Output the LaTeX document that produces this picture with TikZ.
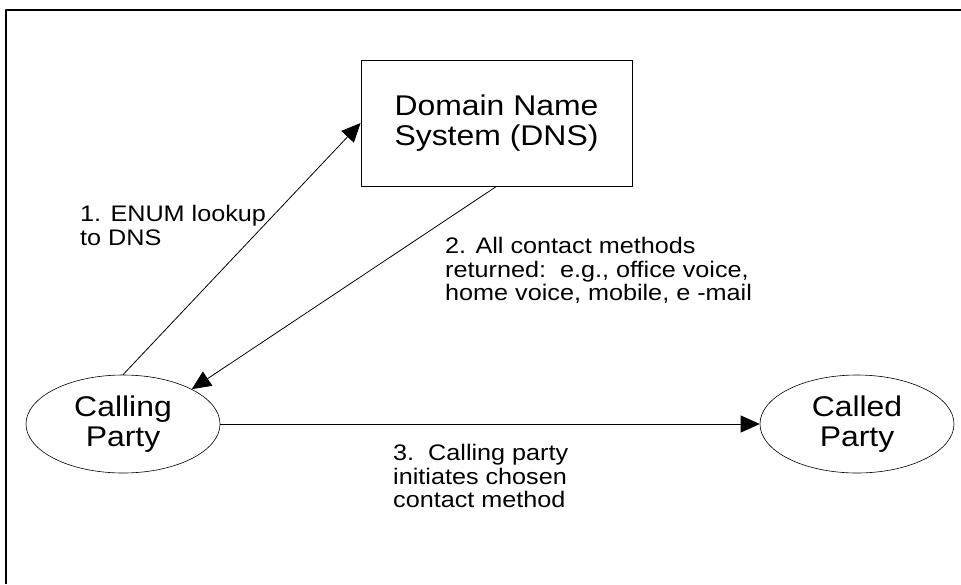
\documentclass[tikz,border=0pt]{standalone}
\usepackage{fontspec}
\setmainfont{Liberation Sans}
\newfontfamily\widesans[FakeStretch=1.12]{Liberation Sans}
\usetikzlibrary{arrows.meta,shapes.geometric}
\begin{document}
\begin{tikzpicture}[x=1pt,y=-1pt,line join=round,>={Triangle[length=19pt,width=17pt]},
	dnsbox/.style={draw,line width=0.8pt,minimum width=271pt,minimum height=126pt,inner sep=0pt,align=center,font=\widesans\fontsize{28.5}{30}\selectfont},
	party/.style={draw,ellipse,line width=0.6pt,minimum width=194pt,minimum height=98pt,inner sep=0pt,align=center,font=\widesans\fontsize{28.5}{30}\selectfont},
	lbl/.style={anchor=north west,inner sep=0pt,align=left,font=\widesans\fontsize{22.5}{23.5}\selectfont}]
	\useasboundingbox (0,0) rectangle (961,584);
	% frame
	\draw[line width=2.2pt] (6,584)--(6,10)--(962,10);
	\node[dnsbox] (dns) at (496.5,123) {Domain Name\\System (DNS)};
	\node[party] (calling) at (123,424) {Calling\\Party};
	\node[party] (called) at (857,424) {Called\\Party};
	\draw[->,line width=0.8pt] (calling.north)--(dns.west);
	\draw[->,line width=0.8pt] (dns.south)--(calling.north east);
	\draw[->,line width=0.8pt] (calling.east)--(called.west);
	\node[lbl] (l1) at (80,205) {1. ENUM lookup\\to DNS};
	\node[lbl] (l2) at (445,237) {2. All contact methods\\returned:\ \ e.g., office voice,\\home voice, mobile, e -mail};
	\node[lbl] (l3) at (393,444) {3.\ \ Calling party\\initiates chosen\\contact method};
\end{tikzpicture}
\end{document}
